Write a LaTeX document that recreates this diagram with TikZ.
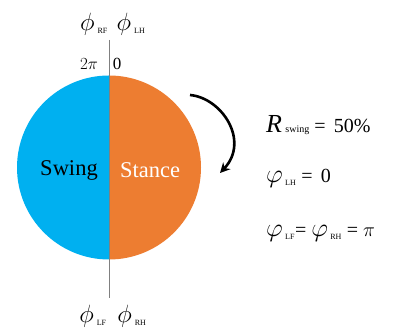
\RequirePackage{fix-cm}
\documentclass[tikz,border=0pt]{standalone}
\usepackage{amsmath}
\usepackage{fontspec}
\setmainfont{Liberation Serif}
\usepackage{tikz}
\usetikzlibrary{arrows.meta, positioning}

\definecolor{swingblue}{HTML}{00B0F0}
\definecolor{stanceorange}{HTML}{ED7D31}

\newcommand{\sub}[1]{_{\,\text{\fontsize{8}{8}\selectfont #1}}}
\newcommand{\bigphi}{{\fontsize{26}{26}\selectfont$\varphi$}}

\begin{document}
\begin{tikzpicture}[x=1pt, y=1pt,
      phase/.style={font=\fontsize{25}{25}\selectfont, inner sep=0pt},
      tick/.style={font=\fontsize{17}{17}\selectfont, inner sep=0pt},
      half/.style={font=\fontsize{22.5}{22.5}\selectfont, inner sep=0pt},
      eqn/.style={font=\fontsize{20}{20}\selectfont, anchor=west, inner sep=0pt},
      axis/.style={draw=gray, line width=0.8pt},
      turn/.style={-{Stealth[length=10pt, width=10pt]}, line width=2.6pt, black}
    ]
    \useasboundingbox (0,0) rectangle (398,336);

    %% ---- disk (two halves) ----
    \coordinate (c) at (109,168.5);
    \fill[swingblue]    (109,260.5) arc (90:270:92) -- cycle;
    \fill[stanceorange] (109,76.5)  arc (-90:90:92) -- cycle;

    %% vertical axis
    \coordinate (top) at (109,296);
    \coordinate (bot) at (109,38);
    \draw[axis] (top) -- (bot);

    %% ---- labels on the disk ----
    \node[half]              at (69,166)  (swing)  {Swing};
    \node[half, text=white]  at (150,166) (stance) {Stance};

    %% top and bottom phase labels
    \node[phase] at (94,312)  (rf) {$\phi\sub{RF}$};
    \node[phase] at (131,312) (lh) {$\phi\sub{LH}$};
    \node[tick]  at (89,272)  (twopi) {$2\pi$};
    \node[tick]  at (117,272) (zero)  {0};
    \node[phase] at (93,20)   (lf) {$\phi\sub{LF}$};
    \node[phase] at (132,20)  (rh) {$\phi\sub{RH}$};

    %% ---- rotation arrow ----
    \coordinate (a0) at (190,241);
    \coordinate (a1) at (220,163);
    \draw[turn] (a0) .. controls (222,238) and (250,195) .. (a1);

    %% ---- equations ----
    \node[eqn] at (266,211) (rswing)
          {{\fontsize{26}{26}\selectfont\itshape R}\,{\fontsize{10}{10}\selectfont swing} = \,50\%};
    \node[eqn] at (266,158) (plh) {\bigphi$\sub{LH}$ = \,0};
    \node[eqn] at (266,103) (plf) {\bigphi$\sub{LF}$= \bigphi$\sub{RH}$ = $\pi$};

  \end{tikzpicture}
\end{document}
